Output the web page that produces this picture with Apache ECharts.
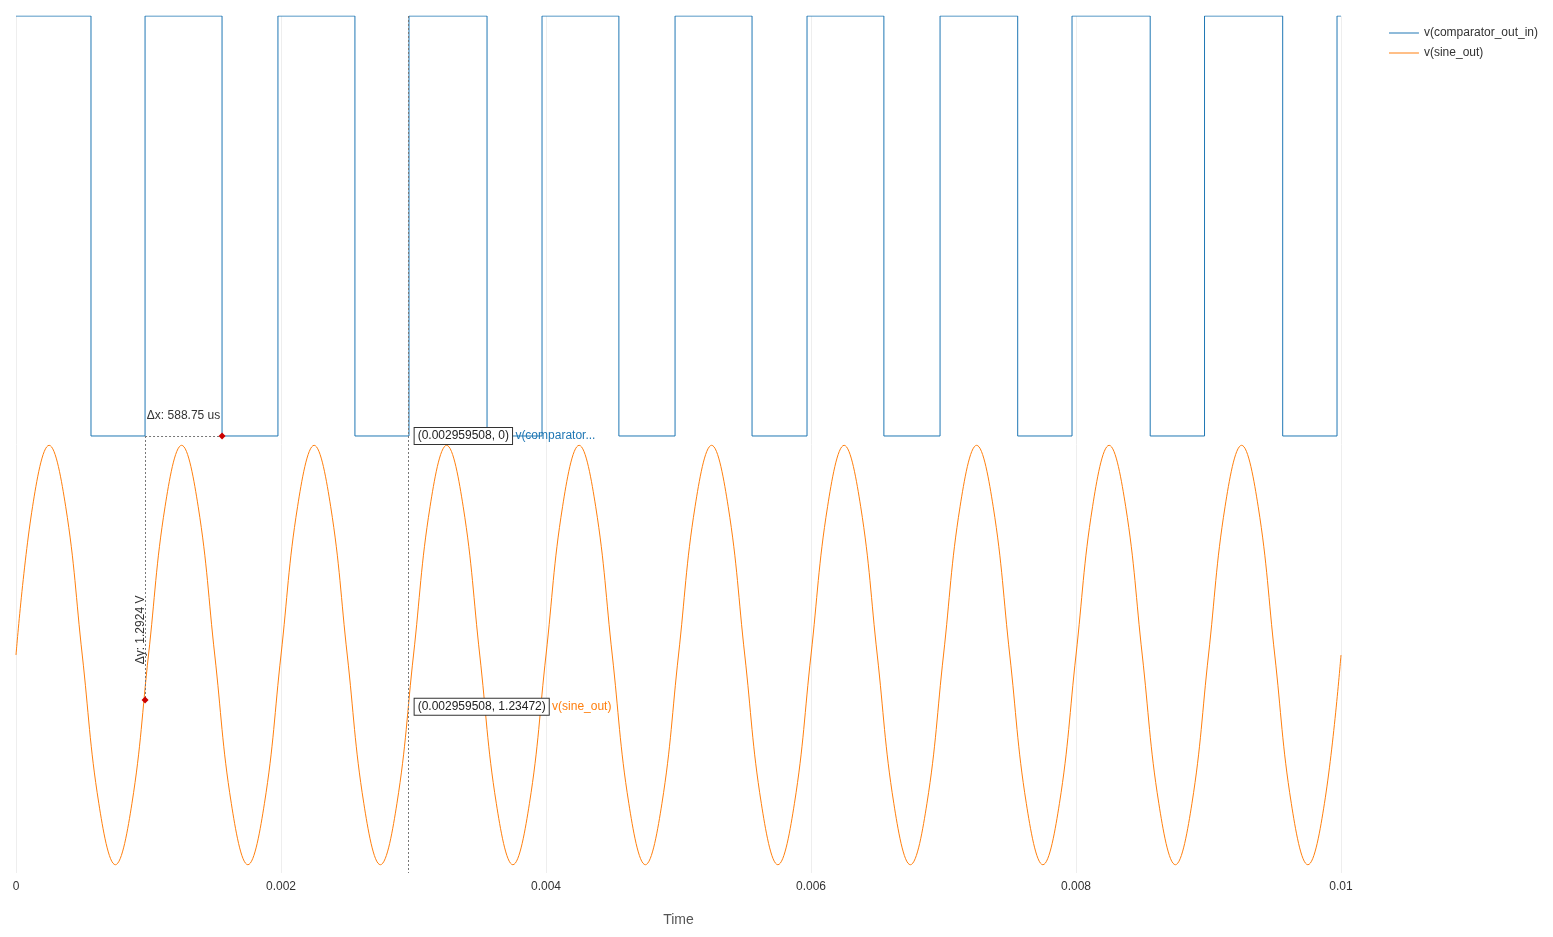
<!DOCTYPE html>
<html><head><meta charset="utf-8">
<script src="https://cdn.jsdelivr.net/npm/echarts@6/dist/echarts.min.js"></script>
<style>html,body{margin:0;padding:0;background:#fff}#c{width:1553px;height:937px}</style>
</head><body><div id="c"></div>
<script>
// comparator transition times (s), starting high at t=0
const compEdges = [0.000566,0.000974,0.001555,0.001977,0.002558,0.002966,0.003555,0.00397,0.00455,0.004974,0.005555,0.00597,0.00655,0.006974,0.00756,0.00797,0.00856,0.00897,0.00956,0.00997];
const compHigh = 5, compLow = 0;
// sine_out samples read every 0.000125 s (V)
const sineStep = 0.000125;
const sineV = [
1.40,1.874,2.07,1.874,1.40,0.926,0.73,0.926,
1.40,1.874,2.07,1.874,1.40,0.926,0.73,0.926,
1.40,1.874,2.07,1.874,1.40,0.926,0.73,0.926,
1.40,1.874,2.07,1.874,1.40,0.926,0.73,0.926,
1.40,1.874,2.07,1.874,1.40,0.926,0.73,0.926,
1.40,1.874,2.07,1.874,1.40,0.926,0.73,0.926,
1.40,1.874,2.07,1.874,1.40,0.926,0.73,0.926,
1.40,1.874,2.07,1.874,1.40,0.926,0.73,0.926,
1.40,1.874,2.07,1.874,1.40,0.926,0.73,0.926,
1.40,1.874,2.07,1.874,1.40,0.926,0.73,0.926,
1.40];
const cursorT = 0.002959508, cursorComp = 0, cursorSine = 1.23472;
const dxA = 0.000974, dxB = 0.001555, dySine = 1.256;

const compData = [[0, compHigh]];
let lvl = compHigh;
compEdges.forEach(t => { compData.push([t, lvl]); lvl = lvl === compHigh ? compLow : compHigh; compData.push([t, lvl]); });
compData.push([0.01, lvl]);
const sineData = sineV.map((v,i)=>[+(i*sineStep).toFixed(6), v]);

const chart = echarts.init(document.getElementById('c'));
const hidden = {symbol:'circle',symbolSize:1,itemStyle:{color:'rgba(0,0,0,0)'}};
const boxLabel = (txt, name, col) => ({
  show:true, position:'right', distance:6,
  formatter: '{b|'+txt+'} {n|'+name+'}',
  rich:{ b:{backgroundColor:'#fff',borderColor:'#333',borderWidth:1,padding:[2,3],color:'#222',fontSize:12},
         n:{color:col,fontSize:12} }
});
chart.setOption({
  animation:false,
  grid:{left:16,right:212,top:16,bottom:64},
  legend:{right:10,top:22,orient:'vertical',itemWidth:30,itemHeight:1,itemGap:8,icon:'rect',
    textStyle:{fontSize:12,color:'#333'},data:['v(comparator_out_in)','v(sine_out)']},
  xAxis:{type:'value',min:0,max:0.01,interval:0.002,name:'Time',nameLocation:'middle',nameGap:40,
    nameTextStyle:{fontSize:14,color:'#555'},
    axisLine:{show:false},axisTick:{show:false},
    axisLabel:{color:'#333',fontSize:12,margin:8,formatter:v=>String(+v.toFixed(3))},
    splitLine:{show:true,lineStyle:{color:'#eee'}}},
  yAxis:[{type:'value',min:-5.2024,max:5,show:false},
         {type:'value',min:0.7036,max:3.4415,show:false}],
  series:[
    {name:'v(comparator_out_in)',type:'line',yAxisIndex:0,data:compData,symbol:'none',
     lineStyle:{color:'#1f77b4',width:1},itemStyle:{color:'#1f77b4'},
     markLine:{silent:true,symbol:'none',label:{show:false},data:[
       [{coord:[cursorT,5]},{coord:[cursorT,-5.2024]}],
       [{coord:[dxA,0]},{coord:[dxB,0]}],
       [{coord:[dxA,0]},{coord:[dxA,-3.143]}]
     ],lineStyle:{color:'#777',type:[2,2],width:1}},
     markPoint:{data:[
       Object.assign({coord:[cursorT,cursorComp],label:boxLabel('(0.002959508, 0)','v(comparator...','#1f77b4')},hidden),
       {coord:[dxB,0],symbol:'diamond',symbolSize:7,itemStyle:{color:'#c00'},label:{show:false}},
       Object.assign({coord:[(dxA+dxB)/2,0],label:{show:true,position:'top',distance:14,formatter:'Δx: 588.75 us',color:'#333',fontSize:12}},hidden),
       Object.assign({coord:[dxA,-1.9],label:{show:true,position:'left',distance:4,rotate:90,formatter:'Δy: 1.2924 V',color:'#333',fontSize:12}},hidden)
     ]}},
    {name:'v(sine_out)',type:'line',yAxisIndex:1,data:sineData,symbol:'none',smooth:0.4,
     lineStyle:{color:'#ff7f0e',width:1},itemStyle:{color:'#ff7f0e'},
     markPoint:{data:[
       Object.assign({coord:[cursorT,cursorSine],label:boxLabel('(0.002959508, 1.23472)','v(sine_out)','#ff7f0e')},hidden),
       {coord:[dxA,dySine],symbol:'diamond',symbolSize:7,itemStyle:{color:'#c00'},label:{show:false}}
     ]}}
  ]
});
</script></body></html>
